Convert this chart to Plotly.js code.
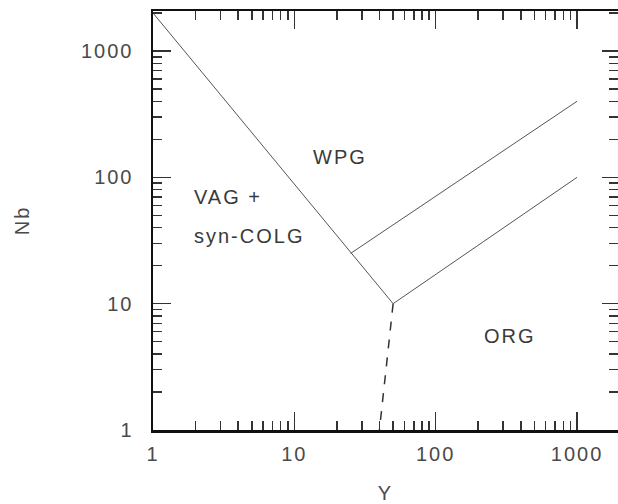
<!DOCTYPE html>
<html>
<head>
<meta charset="utf-8">
<script src="https://cdn.plot.ly/plotly-3.0.1.min.js"></script>
<style>
html,body{margin:0;padding:0;background:#fff;overflow:hidden}
#chart{width:618px;height:504px}
text{letter-spacing:2px}
</style>
</head>
<body>
<div id="chart"></div>
<script>
// Boundary lines (Y, Nb) — Pearce et al. (1984) Nb–Y discrimination diagram
const vagWpgX = [1, 50];
const vagWpgY = [2000, 10];
const colgWpgX = [25, 1000];
const colgWpgY = [25, 400];
const orgWpgX = [50, 1000];
const orgWpgY = [10, 100];
const orgVagX = [50, 40];
const orgVagY = [10, 1];

// Field labels (anchored at left edge for the left-aligned ones)
const fieldNames = ["WPG", "VAG +", "syn-COLG", "ORG"];
const fieldX = [21, 1.89, 1.89, 213];
const fieldY = [145, 70, 34.4, 5.55];
const fieldAnchor = ["center", "left", "left", "left"];

// Ticks
const tickVals = [1, 10, 100, 1000];
const tickText = ["1", "10", "100", "1000"];

const lineColor = "#555";
const traces = [
  {x: vagWpgX, y: vagWpgY, mode: "lines", line: {color: lineColor, width: 1}},
  {x: colgWpgX, y: colgWpgY, mode: "lines", line: {color: lineColor, width: 1}},
  {x: orgWpgX, y: orgWpgY, mode: "lines", line: {color: lineColor, width: 1}},
  {x: orgVagX, y: orgVagY, mode: "lines", line: {color: "#333", width: 1.5, dash: "dash"}}
];

const fam = "Liberation Sans, Arial, sans-serif";
const font = {family: fam, size: 20, color: "#4a4a4a"};
const xr = [0, 3.29];
const yr = [0, 3.317];
const minor = {ticks: "inside", ticklen: 9, tickcolor: "#333", tickwidth: 1.5, dtick: "D1", showgrid: false};

const layout = {
  width: 618, height: 504,
  margin: {l: 153, r: 0, t: 11, b: 74},
  paper_bgcolor: "#fff", plot_bgcolor: "#fff",
  showlegend: false,
  font: font,
  xaxis: {
    type: "log", range: xr, tickvals: tickVals, ticktext: tickText,
    ticks: "inside", ticklen: 18, tickwidth: 1.5, tickcolor: "#333",
    showline: true, linecolor: "#111", linewidth: 2.5, showgrid: false, zeroline: false,
    ticklabelstandoff: 4, tickfont: font,
    minor: minor,
    title: {text: "Y", font: font, standoff: 23}
  },
  yaxis: {
    type: "log", range: yr, tickvals: tickVals, ticktext: tickText,
    ticks: "inside", ticklen: 18, tickwidth: 1.5, tickcolor: "#333",
    showline: true, linecolor: "#111", linewidth: 2.5, showgrid: false, zeroline: false,
    ticklabelstandoff: 13, tickfont: font,
    minor: minor,
    title: {text: "Nb", font: font, standoff: 46}
  },
  xaxis2: {
    type: "log", range: xr, overlaying: "x", side: "top", anchor: "y",
    tickvals: tickVals, showticklabels: false,
    ticks: "inside", ticklen: 18, tickwidth: 1.5, tickcolor: "#333",
    showline: true, linecolor: "#111", linewidth: 2.5, showgrid: false, zeroline: false,
    minor: minor
  },
  yaxis2: {
    type: "log", range: yr, overlaying: "y", side: "right", anchor: "x",
    tickvals: tickVals, showticklabels: false,
    ticks: "inside", ticklen: 16, tickwidth: 1.5, tickcolor: "#333",
    showline: false, showgrid: false, zeroline: false,
    minor: minor
  },
  annotations: fieldNames.map((t, i) => ({
    x: Math.log10(fieldX[i]), y: Math.log10(fieldY[i]), xref: "x", yref: "y",
    text: t, showarrow: false, xanchor: fieldAnchor[i], yanchor: "middle",
    font: {family: fam, size: 20, color: "#3a3a3a"}
  }))
};

// invisible point that activates the mirrored top/right axes
traces.push({x: [1], y: [1], xaxis: "x2", yaxis: "y2", mode: "markers", marker: {opacity: 0}, hoverinfo: "skip"});

Plotly.newPlot("chart", traces, layout, {displayModeBar: false, staticPlot: true});
</script>
</body>
</html>
